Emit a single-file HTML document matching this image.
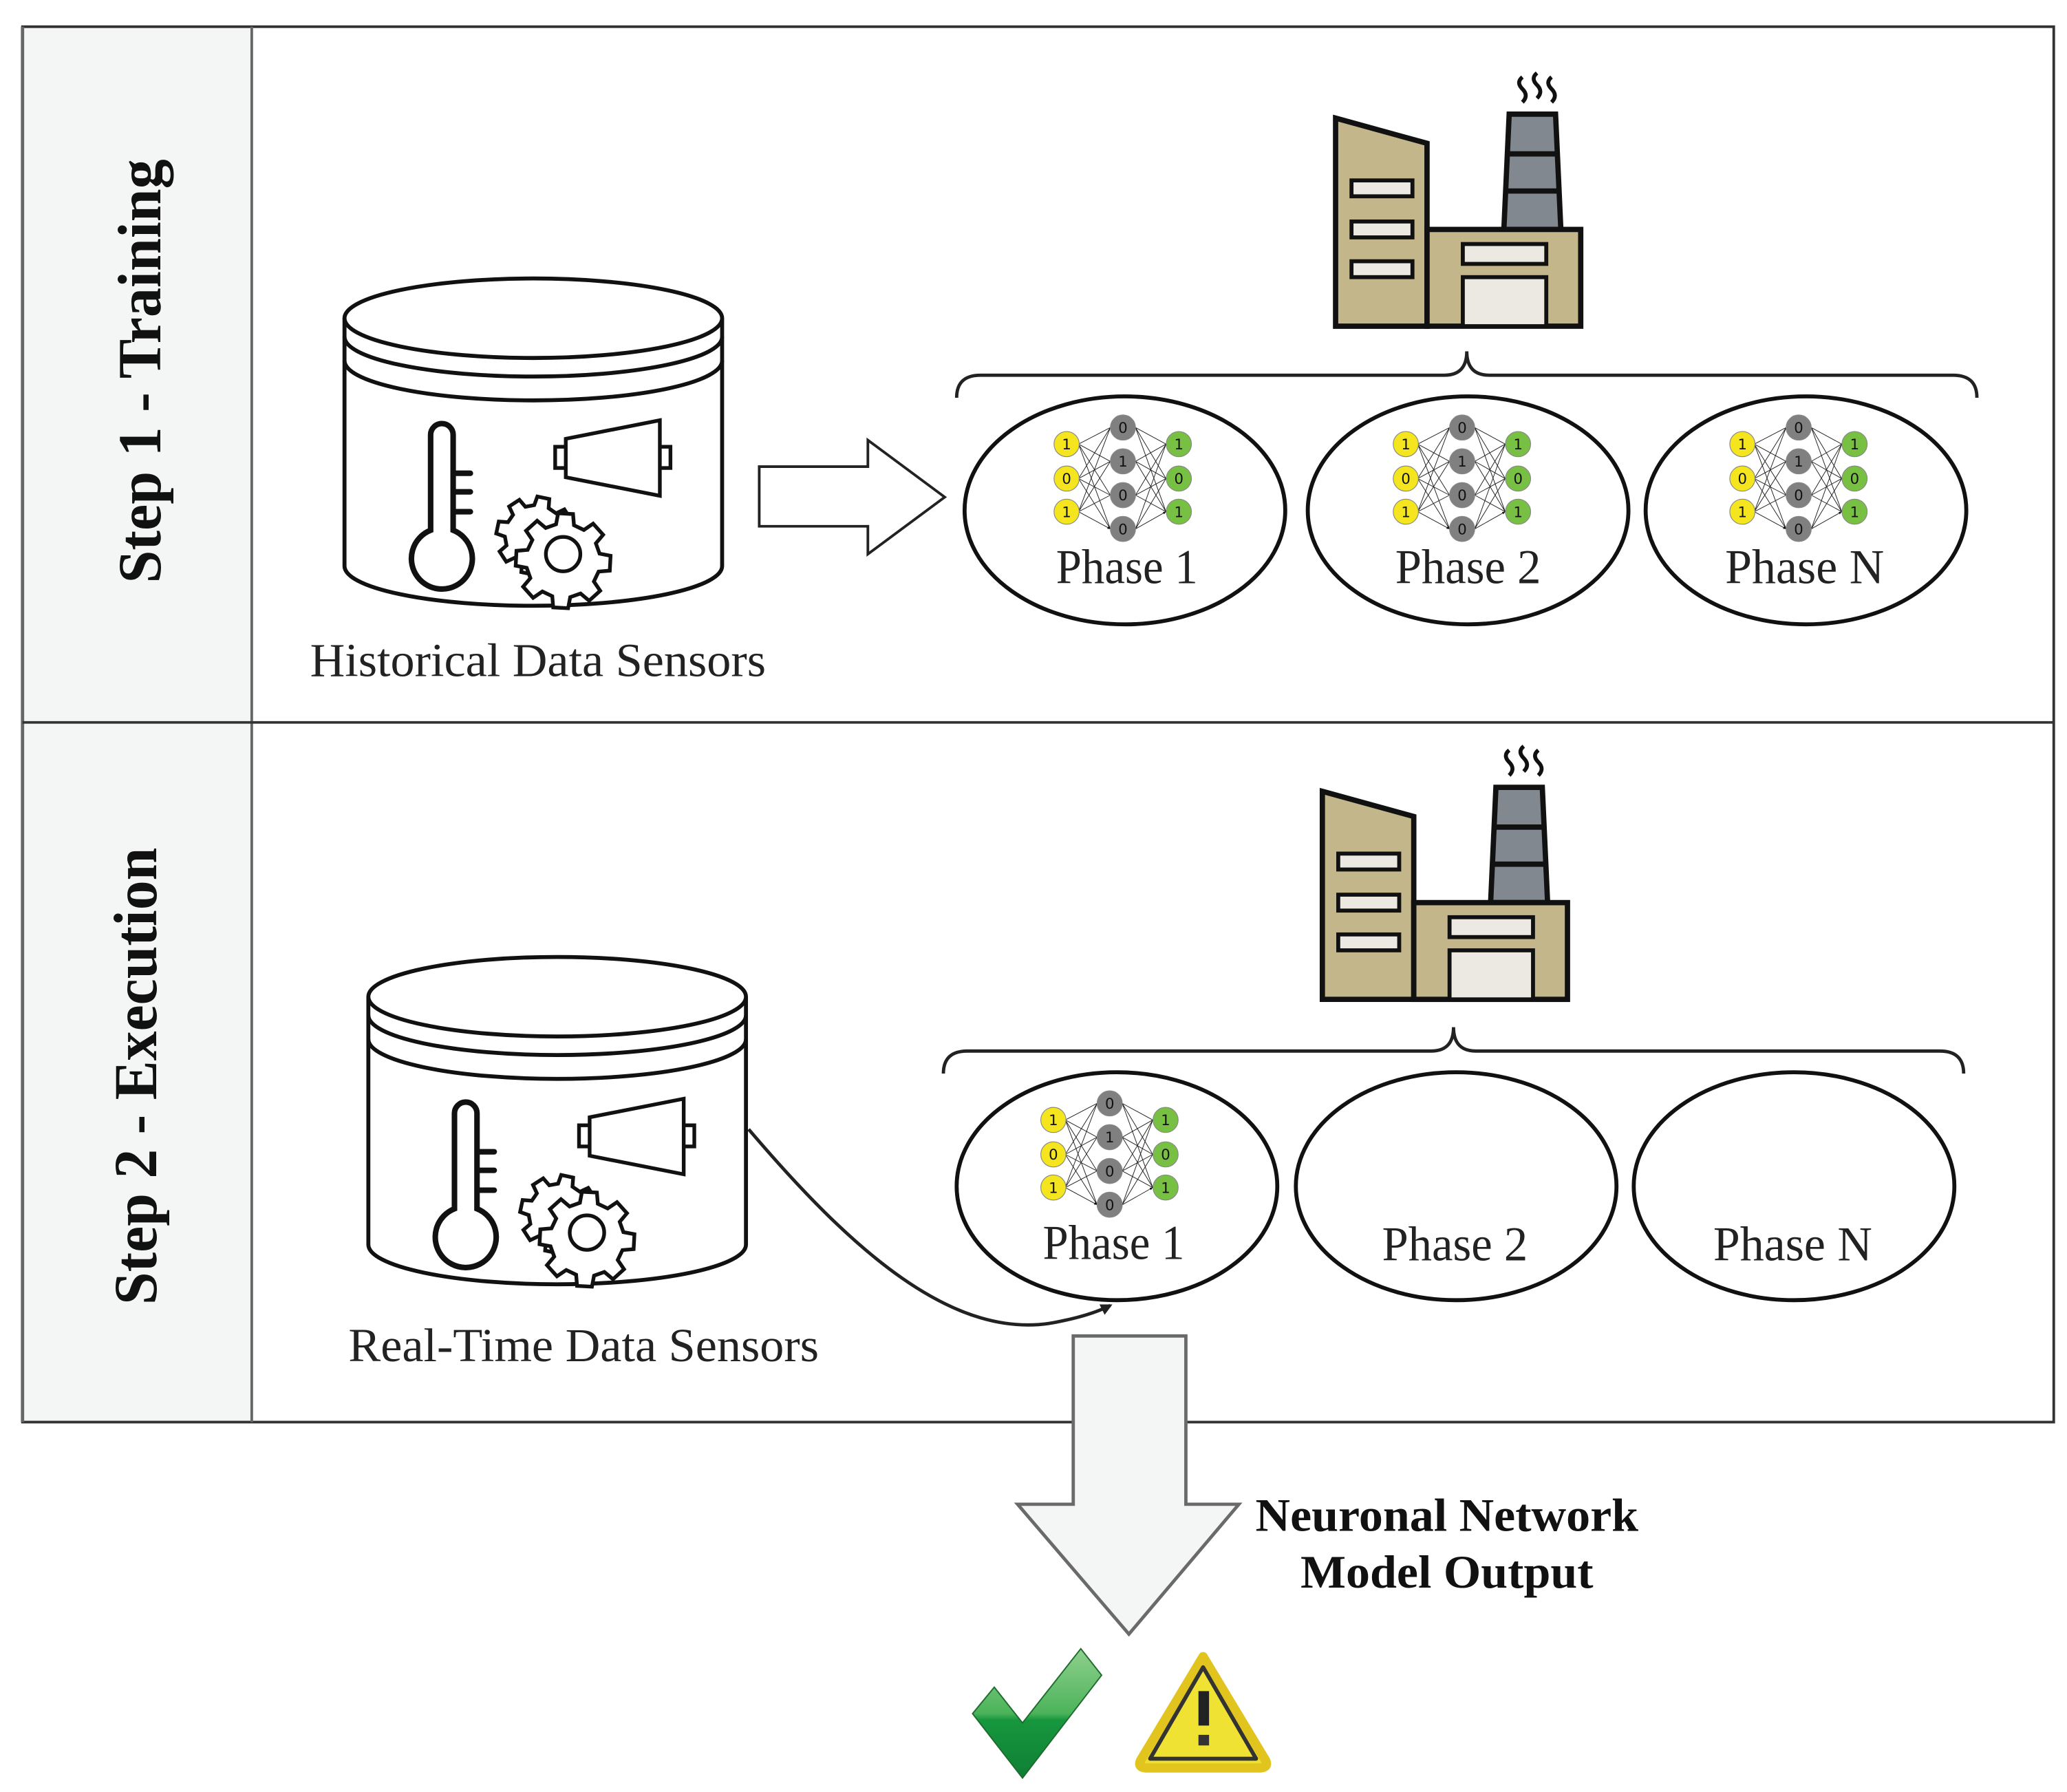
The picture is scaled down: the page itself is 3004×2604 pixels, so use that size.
<!DOCTYPE html>
<html><head><meta charset="utf-8"><style>html,body{margin:0;padding:0;background:#fff}svg{display:block}</style></head>
<body>
<svg width="3004" height="2604" viewBox="0 0 1560 1352" xmlns="http://www.w3.org/2000/svg" font-family="Liberation Serif, serif">
<defs>
<marker id="ah" viewBox="0 0 10 10" refX="9" refY="5" markerWidth="5" markerHeight="5" orient="auto"><path d="M0,1 L10,5 L0,9 z" fill="#111"/></marker>
<marker id="big" viewBox="0 0 10 10" refX="8" refY="5" markerWidth="3.5" markerHeight="3.5" orient="auto"><path d="M0,0 L10,5 L0,10 z" fill="#222"/></marker>
<linearGradient id="gg" x1="0" y1="0" x2="0" y2="1"><stop offset="0" stop-color="#8fd08e"/><stop offset="0.5" stop-color="#4cb35a"/><stop offset="0.55" stop-color="#17973e"/><stop offset="1" stop-color="#0e7f35"/></linearGradient>
<g id="nnl" stroke="#222" stroke-width="0.5" fill="none">
<path marker-end="url(#ah)" d="M814,335 L838,322.5 M814,335 L838,348 M814,335 L838,373.5 M814,335 L838,399 M814,361 L838,322.5 M814,361 L838,348 M814,361 L838,373.5 M814,361 L838,399 M814,386 L838,322.5 M814,386 L838,348 M814,386 L838,373.5 M814,386 L838,399"/>
<path marker-end="url(#ah)" d="M857,322.5 L880,335 M857,322.5 L880,361 M857,322.5 L880,386 M857,348 L880,335 M857,348 L880,361 M857,348 L880,386 M857,373.5 L880,335 M857,373.5 L880,361 M857,373.5 L880,386 M857,399 L880,335 M857,399 L880,361 M857,399 L880,386"/>
<g stroke="#888" stroke-width="0.6"><circle cx="805" cy="335" r="9.5" fill="#f5e51f"/><circle cx="805" cy="361" r="9.5" fill="#f5e51f"/><circle cx="805" cy="386" r="9.5" fill="#f5e51f"/>
<circle cx="847.5" cy="322.5" r="9.5" fill="#808080"/><circle cx="847.5" cy="348" r="9.5" fill="#808080"/><circle cx="847.5" cy="373.5" r="9.5" fill="#808080"/><circle cx="847.5" cy="399" r="9.5" fill="#808080"/>
<circle cx="889.7" cy="335" r="9.5" fill="#78c043"/><circle cx="889.7" cy="361" r="9.5" fill="#78c043"/><circle cx="889.7" cy="386" r="9.5" fill="#78c043"/></g>
</g>
<g id="factory" stroke="#111" stroke-width="4" stroke-linejoin="miter">
<path d="M1008,89 L1077,108 L1077,246 L1008,246 Z" fill="#c3b68a"/>
<path d="M1139,86 L1174,86 L1178,173 L1135,173 Z" fill="#828890"/>
<path d="M1137,116 L1176,116 M1136,144 L1177,144" fill="none"/>
<rect x="1077" y="173" width="116" height="73" fill="#c3b68a"/>
<rect x="1020" y="136" width="46" height="12" fill="#ece9e2" stroke-width="3"/>
<rect x="1020" y="167" width="46" height="12" fill="#ece9e2" stroke-width="3"/>
<rect x="1020" y="197" width="46" height="12" fill="#ece9e2" stroke-width="3"/>
<rect x="1104" y="184" width="63" height="15" fill="#ece9e2" stroke-width="3"/>
<rect x="1104" y="209" width="63" height="37" fill="#ece9e2" stroke-width="3"/>
<path d="M1149,58 q-5,4 0,9 q5,5 0,10 M1160,55 q-5,4 0,9 q5,5 0,10 M1171,58 q-5,4 0,9 q5,5 0,10" fill="none" stroke-width="3"/>
</g>
<polygon id="gear" points="27.17,-6.77 35.56,-5.63 35.56,5.63 27.17,6.77 24.0,14.42 29.12,21.16 21.16,29.12 14.42,24.0 6.77,27.17 5.63,35.56 -5.63,35.56 -6.77,27.17 -14.42,24.0 -21.16,29.12 -29.12,21.16 -24.0,14.42 -27.17,6.77 -35.56,5.63 -35.56,-5.63 -27.17,-6.77 -24.0,-14.42 -29.12,-21.16 -21.16,-29.12 -14.42,-24.0 -6.77,-27.17 -5.63,-35.56 5.63,-35.56 6.77,-27.17 14.42,-24.0 21.16,-29.12 29.12,-21.16 24.0,-14.42"/>
<g id="cyl">
<path d="M260,240 L260,427 A142.5,30 0 0 0 545,427 L545,240" fill="#fff" stroke="#111" stroke-width="3"/>
<ellipse cx="402.5" cy="240" rx="142.5" ry="30" fill="#fff" stroke="#111" stroke-width="3"/>
<path d="M260,254 A142.5,30 0 0 0 545,254 M260,272 A142.5,30 0 0 0 545,272" fill="none" stroke="#111" stroke-width="3"/>
<path d="M325,358 L325,328 A8.5,8.5 0 0 1 342,328 L342,400 A23,23 0 1 1 325,400 Z" fill="none" stroke="#111" stroke-width="4.2"/>
<path d="M344,357 L355,357 M344,371 L355,371 M344,386 L355,386" stroke="#111" stroke-width="4.2" stroke-linecap="round"/>
<path d="M427,331 L498,317 L498,374 L427,360 Z M427,337 L419,337 L419,353 L427,353 M498,337 L506,337 L506,353 L498,353" fill="none" stroke="#111" stroke-width="2.8"/>
<use href="#gear" transform="translate(404,404) rotate(12) scale(0.82)" fill="#fff" stroke="#111" stroke-width="3.4"/>
<use href="#gear" transform="translate(425,423) rotate(3)" fill="#fff" stroke="#111" stroke-width="2.8"/>
<circle cx="425" cy="418" r="13" fill="none" stroke="#111" stroke-width="2.8"/>
</g>
</defs>

<rect x="17" y="20" width="173" height="1053" fill="#f4f6f5"/>
<rect x="17" y="20" width="1533" height="1053" fill="none" stroke="#333" stroke-width="2"/>
<line x1="190" y1="20" x2="190" y2="1073" stroke="#666" stroke-width="2"/>
<line x1="17" y1="20" x2="17" y2="1073" stroke="#666" stroke-width="2.5"/>
<line x1="17" y1="545" x2="1550" y2="545" stroke="#333" stroke-width="2"/>

<text transform="translate(121,280) rotate(-90)" text-anchor="middle" font-size="46" font-weight="bold" fill="#111" textLength="320" lengthAdjust="spacingAndGlyphs">Step 1 - Training</text>
<text transform="translate(118,812) rotate(-90)" text-anchor="middle" font-size="46" font-weight="bold" fill="#111" textLength="345" lengthAdjust="spacingAndGlyphs">Step 2 - Execution</text>

<use href="#cyl"/>
<text x="234" y="510" font-size="36" fill="#222" textLength="344" lengthAdjust="spacingAndGlyphs">Historical Data Sensors</text>
<path d="M573,352 L655,352 L655,332 L713,375 L655,418 L655,397 L573,397 Z" fill="#fff" stroke="#222" stroke-width="2"/>
<use href="#factory"/>
<path d="M722,300 Q722,283 740,283 L1090,283 Q1107,283 1107,265 Q1107,283 1124,283 L1474,283 Q1492,283 1492,300" fill="none" stroke="#222" stroke-width="2.5"/>
<g fill="#fff" stroke="#111" stroke-width="3">
<ellipse cx="849" cy="385" rx="121" ry="86"/><ellipse cx="1108" cy="385" rx="121" ry="86"/><ellipse cx="1363" cy="385" rx="121" ry="86"/>
</g>
<g font-family="DejaVu Sans, sans-serif" font-size="11" text-anchor="middle" fill="#111">
<g><use href="#nnl"/>
<text x="805" y="339">1</text><text x="805" y="365">0</text><text x="805" y="390">1</text>
<text x="847.5" y="326.5">0</text><text x="847.5" y="352">1</text><text x="847.5" y="377.5">0</text><text x="847.5" y="403">0</text>
<text x="889.7" y="339">1</text><text x="889.7" y="365">0</text><text x="889.7" y="390">1</text></g>
<g transform="translate(256,0)"><use href="#nnl"/>
<text x="805" y="339">1</text><text x="805" y="365">0</text><text x="805" y="390">1</text>
<text x="847.5" y="326.5">0</text><text x="847.5" y="352">1</text><text x="847.5" y="377.5">0</text><text x="847.5" y="403">0</text>
<text x="889.7" y="339">1</text><text x="889.7" y="365">0</text><text x="889.7" y="390">1</text></g>
<g transform="translate(510,0)"><use href="#nnl"/>
<text x="805" y="339">1</text><text x="805" y="365">0</text><text x="805" y="390">1</text>
<text x="847.5" y="326.5">0</text><text x="847.5" y="352">1</text><text x="847.5" y="377.5">0</text><text x="847.5" y="403">0</text>
<text x="889.7" y="339">1</text><text x="889.7" y="365">0</text><text x="889.7" y="390">1</text></g>
<g transform="translate(-10,510)"><use href="#nnl"/>
<text x="805" y="339">1</text><text x="805" y="365">0</text><text x="805" y="390">1</text>
<text x="847.5" y="326.5">0</text><text x="847.5" y="352">1</text><text x="847.5" y="377.5">0</text><text x="847.5" y="403">0</text>
<text x="889.7" y="339">1</text><text x="889.7" y="365">0</text><text x="889.7" y="390">1</text></g>
</g>
<g font-size="37" fill="#222">
<text x="797" y="440" textLength="107" lengthAdjust="spacingAndGlyphs">Phase 1</text>
<text x="1053" y="440" textLength="110" lengthAdjust="spacingAndGlyphs">Phase 2</text>
<text x="1302" y="440" textLength="120" lengthAdjust="spacingAndGlyphs">Phase N</text>
</g>

<use href="#cyl" transform="translate(18,512)"/>
<text x="263" y="1027" font-size="36" fill="#222" textLength="355" lengthAdjust="spacingAndGlyphs">Real-Time Data Sensors</text>
<use href="#factory" transform="translate(-10,508)"/>
<path d="M712,810 Q712,793 730,793 L1080,793 Q1097,793 1097,775 Q1097,793 1114,793 L1464,793 Q1482,793 1482,810" fill="none" stroke="#222" stroke-width="2.5"/>
<g fill="none" stroke="#111" stroke-width="3">
<ellipse cx="843" cy="895" rx="121" ry="86"/><ellipse cx="1099" cy="895" rx="121" ry="86"/><ellipse cx="1354" cy="895" rx="121" ry="86"/>
</g>
<g font-size="37" fill="#222">
<text x="787" y="950" textLength="107" lengthAdjust="spacingAndGlyphs">Phase 1</text>
<text x="1043" y="951" textLength="110" lengthAdjust="spacingAndGlyphs">Phase 2</text>
<text x="1293" y="951" textLength="120" lengthAdjust="spacingAndGlyphs">Phase N</text>
</g>
<path d="M565,852 C640,940 720,1015 800,997 C815,994 828,990 838,985" fill="none" stroke="#222" stroke-width="2.5" marker-end="url(#big)"/>

<polygon points="810,1008 895,1008 895,1135 935,1135 852,1233 768,1135 810,1135" fill="#f4f6f5" stroke="#6a6a6a" stroke-width="2.5"/>
<g font-size="35" font-weight="bold" fill="#111" text-anchor="middle">
<text x="1092" y="1155" textLength="289" lengthAdjust="spacingAndGlyphs">Neuronal Network</text>
<text x="1092" y="1198" textLength="221" lengthAdjust="spacingAndGlyphs">Model Output</text>
</g>

<polygon points="734,1293 750.4,1273 771.7,1300 815.7,1244 831.4,1264 771.7,1341.6" fill="url(#gg)" stroke="#1e6b2e" stroke-width="1"/>
<path d="M908,1250 L955,1328 Q958,1334 950,1334 L866,1334 Q858,1334 861,1328 Z" fill="#ede030" stroke="#e2c41f" stroke-width="7" stroke-linejoin="round"/>
<path d="M908,1258 L948,1327 L868,1327 Z" fill="#f0e232" stroke="#333" stroke-width="3" stroke-linejoin="round"/>
<rect x="904.5" y="1276" width="8" height="26" fill="#222"/>
<rect x="904.5" y="1309" width="8" height="8" fill="#333"/>
</svg>
</body></html>
